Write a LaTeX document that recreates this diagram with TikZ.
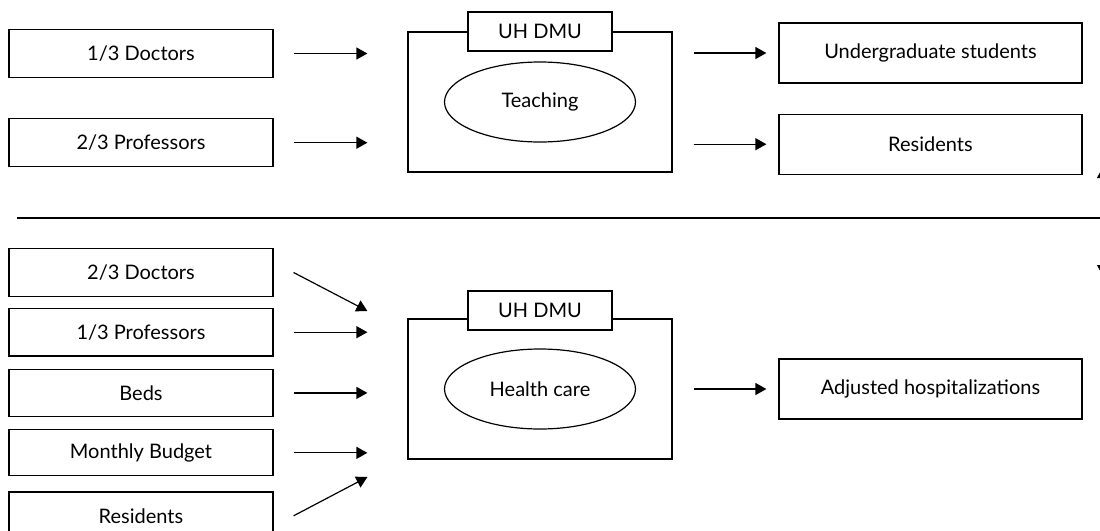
\documentclass[tikz,border=0pt]{standalone}
\usepackage{fontspec}
\setmainfont{Lato}
\usetikzlibrary{positioning,shapes.geometric,arrows.meta}

\tikzstyle{inbox} = [rectangle, minimum width=132pt, minimum height=24pt, inner sep=0pt, text centered, draw=black, line width=0.6pt, fill=white]
\tikzstyle{outbox} = [rectangle, minimum width=151.5pt, minimum height=30pt, inner sep=0pt, text centered, draw=black, line width=0.6pt]
\tikzstyle{dmu} = [rectangle, minimum width=132pt, minimum height=70pt, draw=black, line width=0.6pt]
\tikzstyle{tag} = [rectangle, minimum width=72pt, minimum height=19.5pt, inner sep=0pt, draw=black, line width=0.6pt, fill=white]
\tikzstyle{task} = [ellipse, minimum width=95.5pt, minimum height=40pt, inner sep=0pt, draw=black, line width=0.6pt]
\tikzstyle{arrow} = [line width=0.6pt,->,>={Triangle[length=5.5pt,width=6pt]}]

\begin{document}
\begin{tikzpicture}[x=0.5pt, y=-0.5pt, font=\fontsize{10}{12}\selectfont]
	\useasboundingbox (0,0) rectangle (1100,531);
	% Teaching
	\node [inbox] (docT) at (141,53.5) {1/3 Doctors};
	\node [inbox, below=20pt of docT] (profT) {2/3 Professors};
	\node [dmu] (dmuT) at (540,102) {};
	\node [tag] (tagT) at (dmuT.north) {UH DMU};
	\node [task] (teach) at (dmuT.center) {Teaching};
	\node [outbox] (ugrad) at (930.5,53) {Undergraduate students};
	\node [outbox, below=15pt of ugrad] (resOut) {Residents};
	% Divider
	\draw [line width=0.6pt] (17,218) -- (1100,218);
	% Health care
	\node [inbox, minimum height=23.75pt] (docH) at (141,272.5) {2/3 Doctors};
	\node [inbox, minimum height=23.75pt, below=5.5pt of docH] (profH) {1/3 Professors};
	\node [inbox, minimum height=23.75pt, below=6pt of profH] (beds) {Beds};
	\node [inbox, minimum height=23pt, below=6pt of beds] (budget) {Monthly Budget};
	\node [inbox, minimum height=23.75pt, below=7.5pt of budget] (resIn) {Residents};
	\node [dmu] (dmuH) at (540,389) {};
	\node [tag] (tagH) at ([yshift=4pt]dmuH.north) {UH DMU};
	\node [task] (care) at (dmuH.center) {Health care};
	\node [outbox] (adj) at (930.5,389) {Adjusted hospitalizations};
	\coordinate (linkTop) at (1103,167);
	\coordinate (linkBot) at (1103,276);
	% Draw edges
	\draw [arrow, shorten <=10pt, shorten >=20pt] (docT.east) -- (docT.east -| dmuT.west);
	\draw [arrow, shorten <=10pt, shorten >=20pt] (profT.east) -- (profT.east -| dmuT.west);
	\draw [arrow, shorten <=10.5pt, shorten >=6pt] (dmuT.east |- ugrad.west) -- (ugrad.west);
	\draw [arrow, shorten <=10.5pt, shorten >=6pt] (dmuT.east |- resOut.west) -- (resOut.west);
	\draw [arrow] ([xshift=10pt]docH.east) -- ([xshift=-20pt,yshift=39pt]dmuH.west);
	\draw [arrow, shorten <=10pt, shorten >=20pt] (profH.east) -- (profH.east -| dmuH.west);
	\draw [arrow, shorten <=10pt, shorten >=20pt] (beds.east) -- (beds.east -| dmuH.west);
	\draw [arrow, shorten <=10pt, shorten >=20pt] (budget.east) -- (budget.east -| dmuH.west);
	\draw [arrow] ([xshift=10pt]resIn.east) -- ([xshift=-20pt,yshift=-44pt]dmuH.west);
	\draw [arrow, shorten <=10.5pt, shorten >=6pt] (dmuH.east) -- (adj.west);
	\draw [arrow, <->] (linkBot) -- (linkTop);
\end{tikzpicture}
\end{document}
